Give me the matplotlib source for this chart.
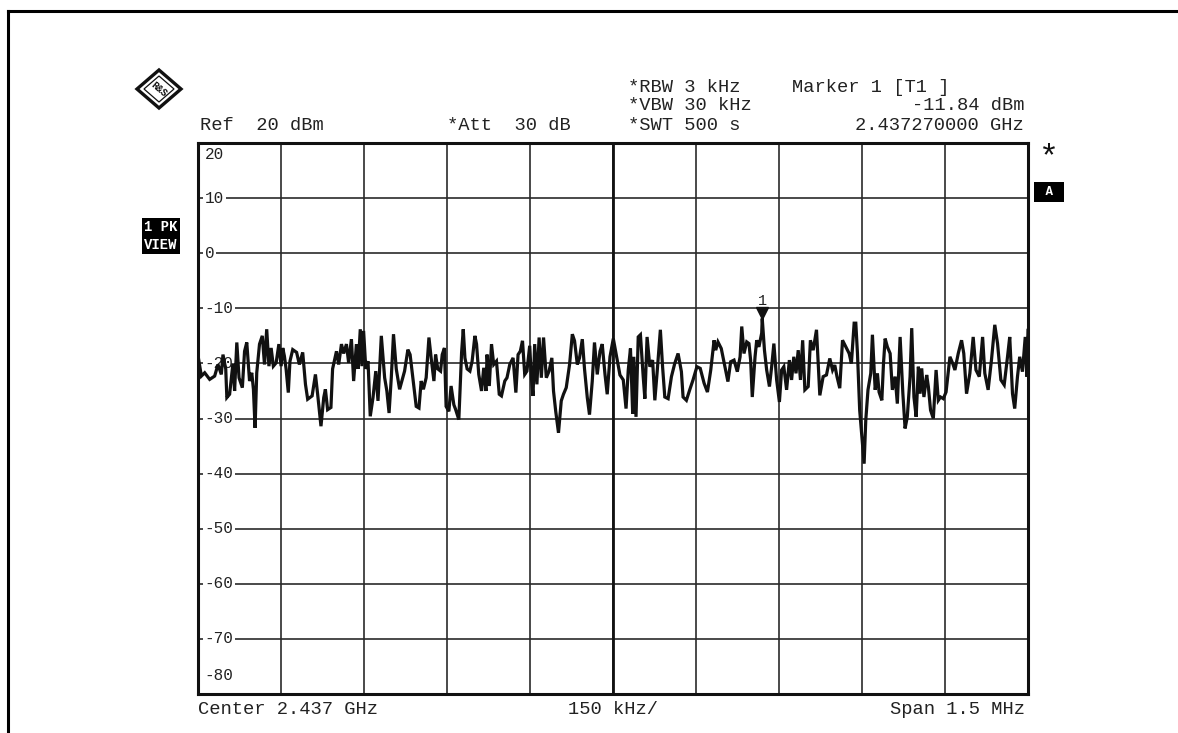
import numpy as np
import matplotlib
matplotlib.use('Agg')
import matplotlib.pyplot as plt
import matplotlib.transforms as mtransforms
from matplotlib.lines import Line2D
from matplotlib.patches import Polygon

# analyzer settings shown on the screen
center_ghz = 2.437
span_khz = 1500
div_khz = 150
ref_dbm = 20
level_ticks = [20, 10, 0, -10, -20, -30, -40, -50, -60, -70, -80]
marker_khz = 270
marker_dbm = -11.84

# trace (offset from center in kHz, level in dBm)
freq_khz = [
    -750, -743, -737, -728, -719, -713, -707, -704, -699, -697, -692, -686, -683, -679, -675,
    -669, -665, -661, -656, -652, -649, -646, -643, -638, -633, -629, -625, -621, -617, -613,
    -608, -603, -599, -596, -593, -590, -586, -583, -578, -571, -566, -560, -555, -551, -543,
    -537, -533, -527, -522, -519, -515, -509, -506, -499, -495, -490, -486, -481, -477, -472,
    -468, -463, -460, -456, -453, -450, -446, -442, -438, -433, -428, -424, -418, -412, -408,
    -404, -400, -396, -391,
    -385, -376, -370, -366, -361, -355, -350, -346, -342, -337, -332, -328, -323, -320, -316,
    -311, -308, -304, -301, -296, -292, -287, -284, -278, -273, -270, -267, -263, -258, -254,
    -249, -246, -242, -237, -233, -229, -227, -223, -219, -215, -210, -205, -201, -195, -191,
    -186, -180, -175, -171, -167, -163, -159, -155, -150, -147, -144, -141, -137, -133, -129,
    -125, -120, -115, -110, -107, -103, -98, -93, -89, -84, -78, -73, -69, -64, -60,
    -55, -51, -46, -42, -37, -33, -28, -23, -19, -14, -10,
    -5, 1, 7, 13, 19, 24, 28, 32, 36, 38, 42, 46, 50, 55, 58,
    62, 67, 72, 76, 80, 86, 90, 94, 100, 106, 112, 118, 124, 127, 133,
    139, 145, 152, 158, 165, 171, 177, 183, 186, 190, 196, 202, 208, 213, 219,
    225, 230, 233, 237, 242, 246, 249, 252, 257, 260, 264, 269, 270, 274, 278,
    283, 287, 291, 296, 301, 305, 309, 314, 319, 323, 327, 331, 335, 339, 343,
    347, 353, 357, 362, 368,
    374, 380, 386, 392, 397, 401, 405, 410, 415, 421, 427, 431, 436, 439, 442,
    446, 451, 454, 457, 461, 466, 469, 474, 478, 481, 486, 489, 492, 496, 501,
    505, 510, 514, 519, 524, 528, 532, 537, 540, 544, 548, 552, 555, 558, 562,
    567, 570, 574, 579, 584, 588, 592, 597, 602, 609, 614, 618, 624, 630, 634,
    639, 645, 651, 656, 662, 668, 672, 678, 684, 690, 695, 701, 707, 713, 717,
    722, 726, 731, 735, 740, 745, 748, 750,
]
level_dbm = [
    -18.0, -22.3, -21.7, -22.9, -22.3, -20.2, -22.0, -18.4, -21.0, -26.2, -25.6, -20.0, -25.0, -16.2, -22.6,
    -24.4, -17.8, -16.2, -23.2, -21.7, -24.7, -31.7, -21.7, -16.5, -15.0, -20.2, -13.8, -20.5, -17.2, -20.5,
    -19.9, -16.5, -20.5, -17.2, -18.7, -21.0, -25.3, -19.6, -17.5, -18.0, -20.2, -18.0, -23.8, -26.5, -25.9,
    -22.0, -25.6, -31.4, -26.2, -24.7, -28.4, -28.0, -21.0, -17.8, -20.2, -16.5, -18.2, -16.5, -19.9, -15.6,
    -23.2, -16.5, -21.0, -13.8, -20.5, -14.1, -21.0, -19.6, -29.6, -26.2, -21.4, -26.8, -15.0, -22.6, -25.0,
    -29.0, -22.6, -14.7, -21.0,
    -24.7, -21.4, -17.5, -18.4, -22.6, -27.8, -28.1, -23.2, -24.7, -22.6, -15.3, -19.0, -23.2, -18.4, -21.0,
    -21.4, -18.4, -17.2, -27.8, -28.7, -24.1, -27.5, -28.3, -30.2, -18.0, -13.8, -19.0, -21.0, -21.4, -19.6,
    -15.0, -16.5, -22.0, -25.0, -20.8, -25.0, -18.4, -24.1, -16.5, -20.2, -19.6, -25.6, -25.9, -23.2, -22.6,
    -20.2, -19.0, -25.3, -18.4, -17.8, -15.9, -22.0, -21.4, -16.8, -22.6, -25.9, -16.5, -23.8, -15.3, -22.6,
    -15.3, -22.6, -21.4, -19.0, -25.0, -28.7, -32.6, -26.8, -25.6, -24.4, -20.2, -14.7, -15.9, -20.2, -19.0,
    -15.6, -21.0, -26.2, -29.3, -23.2, -16.2, -22.0, -17.8, -16.5, -22.0, -25.6,
    -18.8, -15.5, -18.8, -22.1, -23.0, -28.2, -21.2, -17.3, -29.1, -18.8, -29.7, -15.2, -14.8, -22.4, -26.4,
    -15.2, -20.6, -19.4, -26.7, -21.8, -13.9, -20.6, -26.1, -26.4, -22.4, -20.0, -18.2, -21.5, -26.1, -26.7,
    -24.8, -23.0, -20.6, -20.9, -23.6, -25.2, -21.2, -15.8, -17.6, -16.1, -17.3, -20.3, -23.3, -19.7, -19.4,
    -21.5, -18.8, -13.3, -18.2, -16.1, -16.4, -19.4, -26.1, -18.8, -15.8, -17.0, -14.5, -11.84, -17.6, -21.2,
    -24.2, -20.6, -16.4, -23.0, -27.0, -21.2, -20.6, -24.8, -19.4, -23.0, -18.8, -21.8, -17.6, -23.0, -15.8,
    -24.8, -24.2, -15.8, -17.6, -13.9,
    -25.8, -22.4, -22.1, -19.1, -21.2, -20.3, -22.4, -24.5, -15.8, -17.0, -18.2, -20.0, -12.7, -12.7, -18.2,
    -28.5, -34.5, -38.2, -30.3, -24.8, -21.8, -14.8, -24.8, -21.8, -25.2, -26.7, -20.0, -15.5, -17.0, -18.2,
    -24.8, -22.4, -27.3, -15.2, -25.5, -31.8, -29.7, -22.4, -13.6, -26.1, -29.7, -20.6, -25.5, -20.9, -26.1,
    -22.1, -24.2, -28.5, -30.0, -21.2, -26.7, -26.1, -26.4, -25.2, -18.8, -20.0, -21.2, -18.2, -15.8, -18.2,
    -25.5, -21.8, -15.2, -21.2, -22.4, -15.2, -21.8, -24.8, -19.4, -13.0, -16.4, -23.0, -23.9, -18.8, -15.2,
    -25.5, -28.2, -22.4, -18.8, -21.5, -15.2, -22.4, -14.0,
]

plt.rcParams['font.family'] = ['Liberation Mono', 'DejaVu Sans Mono']

W, H = 1178, 733
fig = plt.figure(figsize=(W / 100, H / 100), dpi=100)
fig.patch.set_facecolor('white')


def fxy(x, y):
    # pixel position in the picture -> figure fraction
    return x / W, 1 - y / H


ax = fig.add_axes([197.5 / W, 39 / H, 830.5 / W, 551 / H])
half = span_khz / 2
ax.set_xlim(-half, half)
ax.set_ylim(level_ticks[-1], level_ticks[0])
ax.set_xticks(np.arange(-half, half + 1, div_khz))
ax.set_yticks(level_ticks)
ax.tick_params(length=0, labelbottom=False, labelleft=False)
ax.grid(True, color='#2a2a2a', lw=1.2)
ax.axvline(0, color='#111111', lw=2.0)
for sp in ax.spines.values():
    sp.set_linewidth(2.2)
    sp.set_color('#111111')

ax.plot(freq_khz, level_dbm, color='#111111', lw=2.3, solid_joinstyle='miter', zorder=5)

# level labels sit inside the grid, on a white patch
lab_tr = mtransforms.blended_transform_factory(ax.transAxes, ax.transData)
for lv in level_ticks:
    dy = 0
    if lv == level_ticks[0]:
        dy = -8 / 72
    elif lv == level_ticks[-1]:
        dy = 13 / 72
    tr = lab_tr + mtransforms.ScaledTranslation(7 / 100, dy, fig.dpi_scale_trans)
    ax.text(0, lv, f'{lv}', transform=tr, ha='left', va='center', fontsize=11.5,
            color='#222222', zorder=4,
            bbox=dict(boxstyle='square,pad=0.12', fc='white', ec='none'))

# marker 1
mk_tr = ax.transData + mtransforms.ScaledTranslation(0, 5 / 100, fig.dpi_scale_trans)
ax.plot([marker_khz], [marker_dbm], marker='v', ms=9, color='#111111', transform=mk_tr,
        zorder=6, clip_on=False)
txt_tr = ax.transData + mtransforms.ScaledTranslation(0, 17 / 100, fig.dpi_scale_trans)
ax.text(marker_khz, marker_dbm, '1', transform=txt_tr, ha='center', va='center',
        fontsize=11, color='#222222')

# header
fs = 13.5
tc = '#222222'
fig.text(*fxy(200, 126), f'Ref  {ref_dbm} dBm', fontsize=fs, va='center', color=tc)
fig.text(*fxy(447, 126), '*Att  30 dB', fontsize=fs, va='center', color=tc)
fig.text(*fxy(628, 87), '*RBW 3 kHz', fontsize=fs, va='center', color=tc)
fig.text(*fxy(628, 106), '*VBW 30 kHz', fontsize=fs, va='center', color=tc)
fig.text(*fxy(628, 126), '*SWT 500 s', fontsize=fs, va='center', color=tc)
fig.text(*fxy(792, 87), 'Marker 1 [T1 ]', fontsize=fs, va='center', color=tc)
fig.text(*fxy(1024, 106), f'{marker_dbm:.2f} dBm', fontsize=fs, va='center', ha='right', color=tc)
fig.text(*fxy(1024, 126), f'{center_ghz + marker_khz / 1e6:.9f} GHz', fontsize=fs,
         va='center', ha='right', color=tc)

# footer
fig.text(*fxy(198, 709), f'Center {center_ghz} GHz', fontsize=fs, va='center', color=tc)
fig.text(*fxy(613, 709), f'{div_khz} kHz/', fontsize=fs, va='center', ha='center', color=tc)
fig.text(*fxy(1025, 709), f'Span {span_khz / 1000} MHz', fontsize=fs, va='center', ha='right', color=tc)

# side annotations
fig.text(*fxy(1049, 158), '*', fontsize=24, va='center', ha='center', color='#111111')
fig.text(*fxy(1049, 192), ' A ', fontsize=9, va='center', ha='center', color='white',
         fontweight='bold', bbox=dict(boxstyle='square,pad=0.3', fc='black', ec='none'))
fig.text(*fxy(161, 227), '1 PK', fontsize=10, va='center', ha='center', color='white',
         fontweight='bold', bbox=dict(boxstyle='square,pad=0.15', fc='black', ec='none'))
fig.text(*fxy(161, 245), 'VIEW', fontsize=10, va='center', ha='center', color='white',
         fontweight='bold', bbox=dict(boxstyle='square,pad=0.15', fc='black', ec='none'))

# R&S logo
cx, cy = 159, 89
outer = [fxy(cx - 22, cy), fxy(cx, cy - 19), fxy(cx + 22, cy), fxy(cx, cy + 19)]
inner = [fxy(cx - 15, cy), fxy(cx, cy - 13), fxy(cx + 15, cy), fxy(cx, cy + 13)]
fig.add_artist(Polygon(outer, closed=True, fc='white', ec='#111111', lw=2.4,
                       transform=fig.transFigure))
fig.add_artist(Polygon(inner, closed=True, fc='none', ec='#111111', lw=0.9,
                       transform=fig.transFigure))
fig.text(*fxy(cx, cy), 'R&S', fontsize=7, fontweight='bold', rotation=-40,
         va='center', ha='center', color='#111111')

# page border
fig.add_artist(Line2D([8 / W, 8 / W], [0, 1 - 11 / H], color='black', lw=2.2,
                      transform=fig.transFigure))
fig.add_artist(Line2D([8 / W, 1], [1 - 11 / H, 1 - 11 / H], color='black', lw=2.2,
                      transform=fig.transFigure))

fig.savefig('out.png', dpi=100)
